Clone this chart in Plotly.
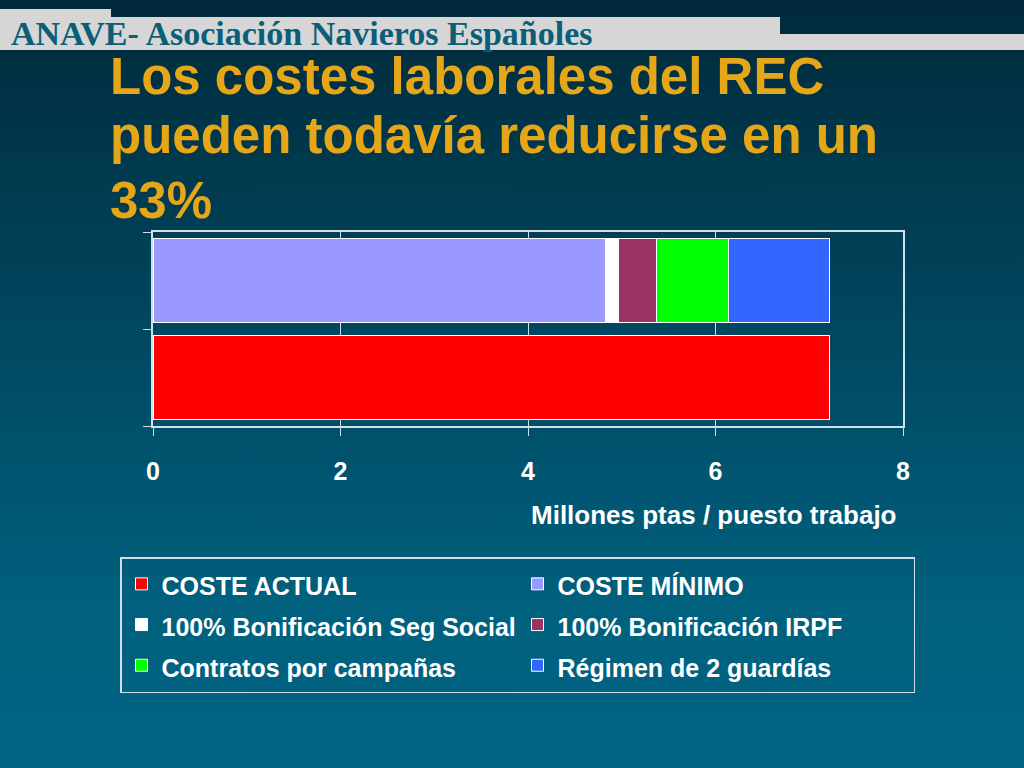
import base64
import plotly.graph_objects as go

# rows of the chart (bottom to top)
categories = ["Actual", "Mínimo"]

# millones ptas / puesto de trabajo
coste_actual = [7.22, None]
coste_minimo = [None, 4.83]
bonif_seg_social = [None, 0.13]
bonif_irpf = [None, 0.41]
contratos_campanas = [None, 0.77]
regimen_guardias = [None, 1.08]

series = [
    ("COSTE ACTUAL", coste_actual, "#ff0000"),
    ("COSTE MÍNIMO", coste_minimo, "#9999ff"),
    ("100% Bonificación Seg Social", bonif_seg_social, "#ffffff"),
    ("100% Bonificación IRPF", bonif_irpf, "#993366"),
    ("Contratos por campañas", contratos_campanas, "#00ff00"),
    ("Régimen de 2 guardías", regimen_guardias, "#3366ff"),
]

title_lines = ["Los costes laborales del REC", "pueden todavía reducirse en un", "33%"]

W, H = 1024, 768
L, R, T, B = 153, 903, 232, 426


def px_x(px):
    return (px - L) / (R - L)


def px_y(py):
    return (B - py) / (B - T)


fig = go.Figure()
for name, vals, col in series:
    fig.add_trace(go.Bar(
        x=vals, y=categories, orientation="h",
        name='<span style="font-size:25px">' + name + "</span>",
        marker=dict(color=col, line=dict(color="white", width=1)),
    ))

# background gradient
svg = ('<svg xmlns="http://www.w3.org/2000/svg" width="1024" height="768">'
       '<defs><linearGradient id="g" x1="0" y1="0" x2="0" y2="1">'
       '<stop offset="0" stop-color="#002a3b"/>'
       '<stop offset="0.8" stop-color="#00617f"/>'
       '<stop offset="1" stop-color="#006482"/>'
       '</linearGradient></defs>'
       '<rect width="1024" height="768" fill="url(#g)"/></svg>')
src = "data:image/svg+xml;base64," + base64.b64encode(svg.encode()).decode()
fig.add_layout_image(dict(
    source=src, xref="paper", yref="paper", x=px_x(0), y=px_y(0),
    sizex=px_x(W) - px_x(0), sizey=px_y(0) - px_y(H),
    xanchor="left", yanchor="top", sizing="stretch", layer="below",
))

# header strip
grey = "#d6d6d6"
for x0, y0, x1, y1 in [(0, 9, 111, 17), (0, 17, 780, 50), (780, 34, W, 50)]:
    fig.add_shape(type="rect", xref="paper", yref="paper",
                  x0=px_x(x0), x1=px_x(x1), y0=px_y(y0), y1=px_y(y1),
                  fillcolor=grey, line=dict(width=0), layer="above")

fig.add_annotation(
    text="<b>ANAVE- Asociación Navieros Españoles</b>",
    xref="paper", yref="paper", x=px_x(9), y=px_y(33),
    xanchor="left", yanchor="middle", showarrow=False,
    font=dict(family="Liberation Serif", size=34, color="#0b5e78"),
)

# title, one annotation per line (tops of the text boxes)
for line, top in zip(title_lines, [46, 105, 170]):
    fig.add_annotation(
        text="<b>" + line + "</b>",
        xref="paper", yref="paper", x=px_x(108), y=px_y(top),
        xanchor="left", yanchor="top", align="left", showarrow=False,
        font=dict(family="Liberation Sans", size=51, color="#e5a718"),
    )

fig.add_annotation(
    text="<b>Millones ptas / puesto trabajo</b>",
    xref="paper", yref="paper", x=px_x(899), y=px_y(515),
    xanchor="right", yanchor="middle", showarrow=False,
    font=dict(family="Liberation Sans", size=26, color="white"),
)

axis_col = "#cfe0ea"
fig.update_xaxes(
    range=[0, 8], dtick=2, ticks="outside", ticklen=8, tickcolor=axis_col,
    ticklabelstandoff=14,
    showgrid=True, gridcolor=axis_col, gridwidth=1,
    showline=True, linecolor=axis_col, linewidth=1.5, mirror=True,
    zeroline=False,
    tickfont=dict(family="Liberation Sans", size=25, color="white", weight="bold"),
)
fig.update_yaxes(
    type="category", categoryorder="array", categoryarray=categories,
    tickson="boundaries", ticks="outside", ticklen=8, tickcolor=axis_col,
    showticklabels=False, showgrid=False,
    showline=True, linecolor=axis_col, linewidth=1.5, mirror=True,
)

fig.update_layout(
    width=W, height=H, autosize=False,
    margin=dict(l=L, r=W - R, t=T, b=H - B),
    barmode="stack", bargap=0.134,
    paper_bgcolor="#00465e", plot_bgcolor="rgba(0,0,0,0)",
    showlegend=True,
    legend=dict(
        orientation="h", x=px_x(120), y=px_y(557),
        xanchor="left", yanchor="top",
        entrywidth=351, entrywidthmode="pixels", traceorder="normal",
        bordercolor=axis_col, borderwidth=1.5, bgcolor="rgba(0,0,0,0)",
        font=dict(family="Liberation Sans", size=29, color="white", weight="bold"),
    ),
)

fig.write_html("out.html", config={"displayModeBar": False},
               post_script="document.body.style.margin='0';")
